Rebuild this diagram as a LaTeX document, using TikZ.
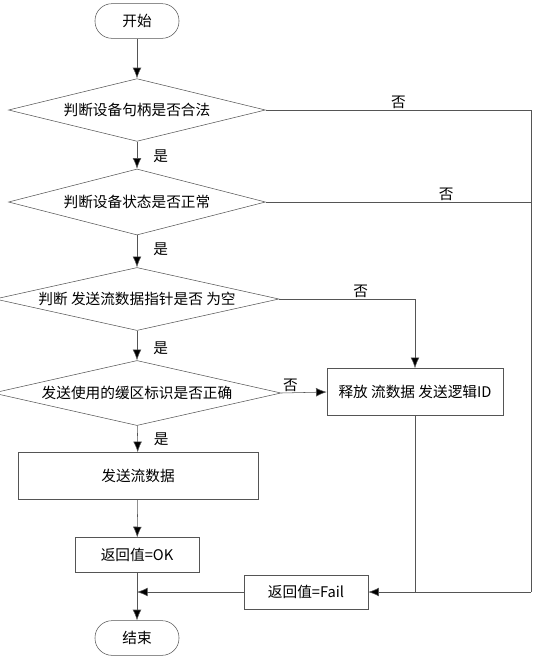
\documentclass[tikz,border=0pt]{standalone}
\usepackage{fontspec}
\usepackage{tikz}
\usetikzlibrary{arrows.meta,positioning,shapes.geometric,calc}
\newfontfamily\cjk{Noto Sans CJK SC}
\definecolor{edge}{HTML}{555555}

\begin{document}
\begin{tikzpicture}[
  x=0.75pt, y=-0.75pt,
  every node/.style={font=\cjk\fontsize{11}{13}\selectfont},
  term/.style={draw=edge, rounded corners=12.75pt, minimum width=63pt, minimum height=26pt, inner sep=0pt},
  decide/.style={draw=edge, diamond, aspect=4, inner sep=0pt, minimum width=192.75pt, minimum height=47pt},
  stepbox/.style={draw=edge, rectangle, minimum width=93pt, minimum height=26pt, inner sep=2pt},
  arr/.style={draw=edge, -{Latex[length=8pt, width=6.5pt, fill=black]}},
  line/.style={draw=edge},
  lbl/.style={inner sep=1pt}
]
\useasboundingbox (0,0) rectangle (550,665);

\node[term] (start) at (137,21) {开始};
\node[decide] (d1) at (137,110) {判断设备句柄是否合法};
\node[decide, minimum height=49.5pt] (d2) at (137,202) {判断设备状态是否正常};
\node[decide, minimum width=213pt] (d3) at (137,299) {判断 发送流数据指针是否 为空};
\node[decide, minimum width=216pt, minimum height=48.75pt] (d4) at (137,393) {发送使用的缓区标识是否正确};
\node[stepbox, minimum width=180pt, minimum height=35.25pt] (send) at (138,476) {发送流数据};
\node[stepbox] (ok) at (137,555) {返回值=OK};
\node[term] (end) at (137,638) {结束};
\node[stepbox, minimum width=132pt, minimum height=35.25pt] (rel) at (415,392) {释放 流数据 发送逻辑ID};
\node[stepbox, minimum height=25.5pt] (fail) at (306,592) {返回值=Fail};
\coordinate (rt) at (531,592);

% main column
\draw[arr] (start) -- (d1);
\draw[arr] (d1) -- node[lbl, right=11pt, pos=0.55] {是} (d2);
\draw[arr] (d2) -- node[lbl, right=11pt, pos=0.45] {是} (d3);
\draw[arr] (d3) -- node[lbl, right=11pt, pos=0.6] {是} (d4);
\draw[arr] (d4) -- node[lbl, right=11pt, pos=0.5] {是} (send);
\draw[arr] (send) -- (ok);
\draw[arr] (ok) -- (end);

% failure branches
\draw[line] (d1.east) -- node[lbl, above, pos=0.5] {否} (d1.east -| rt) -- (rt);
\draw[line] (d2.east) -- node[lbl, above, pos=0.68] {否} (d2.east -| rt);
\draw[arr] (d3.east) -- node[lbl, above, pos=0.6] {否} (d3.east -| rel.north) -- (rel.north);
\draw[arr] (d4.east) -- node[lbl, above, pos=0.2] {否} (rel.west);
\draw[line] (rel.south) -- (rel.south |- rt);
\draw[arr] (rt) -- (fail.east);
\draw[arr] (fail.west) -- (ok.south |- fail.west);
\end{tikzpicture}
\end{document}
